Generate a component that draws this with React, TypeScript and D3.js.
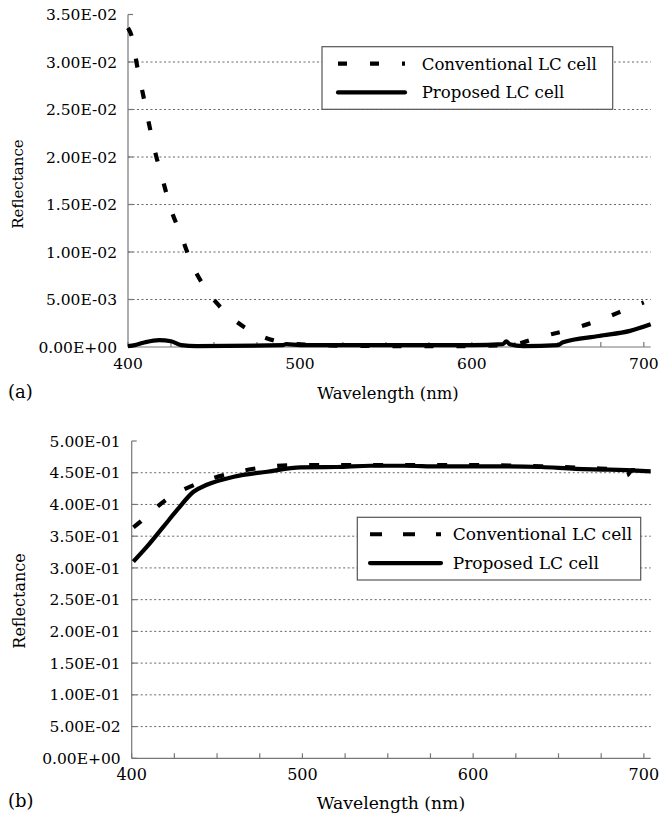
import React from "react";
import * as d3 from "d3";

// ---------- DATA ----------
const xTickValues = [400, 425, 450, 475, 500, 525, 550, 575, 600, 625, 650, 675, 700];
const xTickLabels = [400, 500, 600, 700];
const seriesNames = ["Conventional LC cell", "Proposed LC cell"];

// Panel (a)
const aYTicks = [0, 0.005, 0.01, 0.015, 0.02, 0.025, 0.03, 0.035];
const aYLabels = ["0.00E+00", "5.00E-03", "1.00E-02", "1.50E-02", "2.00E-02", "2.50E-02", "3.00E-02", "3.50E-02"];
const aConvWave = [400, 402.5, 405.4, 408.9, 412.2, 415.7, 420.2, 424.8, 430.8, 437, 445.7, 457.4, 473.3, 490, 510, 550, 600, 625, 638.5, 656.4, 675.4, 692.8, 700];
const aConvVal = [0.0336, 0.0325, 0.0295, 0.02645, 0.0235, 0.0206, 0.0176, 0.0146, 0.0118, 0.0088, 0.006, 0.00355, 0.0015, 0.0005, 0.0002, 0.0001, 0.0001, 0.0003, 0.001, 0.0018, 0.0029, 0.0042, 0.0047];
const aPropWave = [400, 404, 410, 418, 425, 431, 440, 490, 492, 500, 550, 600, 618, 620, 622, 630, 650, 653, 674, 692, 704];
const aPropVal = [0.0001, 0.0002, 0.0005, 0.00072, 0.0006, 0.0002, 0.0001, 0.0002, 0.0003, 0.0002, 0.0002, 0.0002, 0.0003, 0.0006, 0.0003, 0.0001, 0.0002, 0.0005, 0.00116, 0.0017, 0.0024];

// Panel (b)
const bYTicks = [0, 0.05, 0.1, 0.15, 0.2, 0.25, 0.3, 0.35, 0.4, 0.45, 0.5];
const bYLabels = ["0.00E+00", "5.00E-02", "1.00E-01", "1.50E-01", "2.00E-01", "2.50E-01", "3.00E-01", "3.50E-01", "4.00E-01", "4.50E-01", "5.00E-01"];
const bConvWave = [401, 403.8, 420.5, 439.6, 458.2, 477.4, 497, 520, 560, 600, 640, 670, 685, 690, 693, 704];
const bConvVal = [0.364, 0.37, 0.408, 0.434, 0.449, 0.4585, 0.462, 0.462, 0.462, 0.462, 0.46, 0.457, 0.455, 0.446, 0.454, 0.453];
const bPropWave = [401, 408.8, 418.6, 426.5, 436.2, 444, 459.8, 479.4, 499, 520, 540, 560, 580, 600, 620, 640, 660, 680, 690, 704];
const bPropVal = [0.31, 0.333, 0.365, 0.391, 0.42, 0.431, 0.4437, 0.4516, 0.4585, 0.459, 0.461, 0.461, 0.46, 0.46, 0.46, 0.459, 0.456, 0.455, 0.454, 0.452];

const FONT = "DejaVu Serif, serif";

type PanelProps = {
  x0: number; x1: number; yTop: number; yBottom: number;
  yMax: number; yTicks: number[]; yLabels: string[];
  conv: [number, number][]; prop: [number, number][];
  tickFont: number; xTickFont: number;
  legend: { x: number; y: number; w: number; h: number; font: number; textX: number; sx0: number; sx1: number; dash: string };
  yLabel: { x: number; y: number; font: number };
  xLabel: { x: number; y: number; font: number };
  tag: { text: string; x: number; y: number };
  xLabelY: number;
  dash: string;
};

function Panel(p: PanelProps) {
  const x = d3.scaleLinear().domain([400, 704]).range([p.x0, p.x1]);
  const y = d3.scaleLinear().domain([0, p.yMax]).range([p.yBottom, p.yTop]);
  const line = d3.line<[number, number]>().x(d => x(d[0])).y(d => y(d[1])).curve(d3.curveMonotoneX);
  const lg = p.legend;
  const ts = (size: number, ls = 0) => ({ fontFamily: FONT, fontSize: size + "px", letterSpacing: ls + "px" });
  return (
    <g>
      {p.yTicks.filter(t => t > 0 && t < p.yMax).map(t => (
        <line key={"g" + t} x1={p.x0} x2={p.x1} y1={y(t)} y2={y(t)} stroke="#666" strokeWidth={1} strokeDasharray="2,2.5" />
      ))}
      <line x1={p.x0} x2={p.x0} y1={p.yTop} y2={p.yBottom} stroke="#777" strokeWidth={1.2} />
      <line x1={p.x0} x2={p.x1} y1={p.yBottom} y2={p.yBottom} stroke="#777" strokeWidth={1.2} />
      {p.yTicks.map(t => (
        <line key={"yt" + t} x1={p.x0} x2={p.x0 + 5} y1={y(t)} y2={y(t)} stroke="#777" strokeWidth={1.2} />
      ))}
      {xTickValues.map(t => (
        <line key={"xt" + t} x1={x(t)} x2={x(t)} y1={p.yBottom} y2={p.yBottom - 5} stroke="#777" strokeWidth={1.2} />
      ))}
      {p.yTicks.map((t, i) => (
        <text key={"yl" + t} x={p.x0 - 11} y={y(t)} dy="0.36em" textAnchor="end" style={ts(p.tickFont)}>{p.yLabels[i]}</text>
      ))}
      {xTickLabels.map(t => (
        <text key={"xl" + t} x={x(t)} y={p.xLabelY} textAnchor="middle" style={ts(p.xTickFont)}>{t}</text>
      ))}
      <path d={line(p.prop) || ""} fill="none" stroke="#000" strokeWidth={4.2} strokeLinejoin="round" />
      <path d={line(p.conv) || ""} fill="none" stroke="#000" strokeWidth={4.2} strokeDasharray={p.dash} />
      <rect x={lg.x} y={lg.y} width={lg.w} height={lg.h} fill="#fff" stroke="#555" strokeWidth={1.2} />
      <line x1={lg.sx0} x2={lg.sx1} y1={lg.y + lg.h * 0.27} y2={lg.y + lg.h * 0.27} stroke="#000" strokeWidth={4.2} strokeDasharray={lg.dash} />
      <line x1={lg.sx0} x2={lg.sx1} y1={lg.y + lg.h * 0.73} y2={lg.y + lg.h * 0.73} stroke="#000" strokeWidth={4.2} strokeLinecap="round" />
      <text x={lg.textX} y={lg.y + lg.h * 0.27} dy="0.36em" style={ts(lg.font)}>{seriesNames[0]}</text>
      <text x={lg.textX} y={lg.y + lg.h * 0.73} dy="0.36em" style={ts(lg.font)}>{seriesNames[1]}</text>
      <text transform={`translate(${p.yLabel.x},${p.yLabel.y}) rotate(-90)`} textAnchor="middle" dy="0.36em" style={ts(p.yLabel.font)}>Reflectance</text>
      <text x={p.xLabel.x} y={p.xLabel.y} textAnchor="middle" dy="0.36em" style={ts(p.xLabel.font)}>Wavelength (nm)</text>
      <text x={p.tag.x} y={p.tag.y} dy="0.36em" style={ts(18)}>{p.tag.text}</text>
    </g>
  );
}

const zip = (a: number[], b: number[]) => a.map((v, i) => [v, b[i]] as [number, number]);

export default function App() {
  return (
    <svg width={660} height={815} style={{ position: "absolute", left: 0, top: 0, background: "#fff" }}>
      <rect width={660} height={815} fill="#fff" />
      <Panel
        x0={128} x1={650.7} yTop={14.5} yBottom={347}
        yMax={0.035} yTicks={aYTicks} yLabels={aYLabels}
        conv={zip(aConvWave, aConvVal)} prop={zip(aPropWave, aPropVal)}
        tickFont={15.5} xTickFont={15.5}
        legend={{ x: 322, y: 46.7, w: 290.7, h: 62.6, font: 16.6, textX: 421.7, sx0: 338, sx1: 405, dash: "9,23" }}
        yLabel={{ x: 18, y: 184, font: 15 }}
        xLabel={{ x: 388, y: 393, font: 16.4 }}
        tag={{ text: "(a)", x: 8, y: 392 }}
        xLabelY={369}
        dash="9,23"
      />
      <Panel
        x0={131.7} x1={650.7} yTop={441} yBottom={758.3}
        yMax={0.5} yTicks={bYTicks} yLabels={bYLabels}
        conv={zip(bConvWave, bConvVal)} prop={zip(bPropWave, bPropVal)}
        tickFont={15.5} xTickFont={16}
        legend={{ x: 357.3, y: 517.3, w: 283.4, h: 62.7, font: 17, textX: 452.7, sx0: 370, sx1: 441, dash: "12,21" }}
        yLabel={{ x: 19, y: 601, font: 16 }}
        xLabel={{ x: 391, y: 803, font: 17.2 }}
        tag={{ text: "(b)", x: 8, y: 801 }}
        xLabelY={780}
        dash="10,22"
      />
    </svg>
  );
}
